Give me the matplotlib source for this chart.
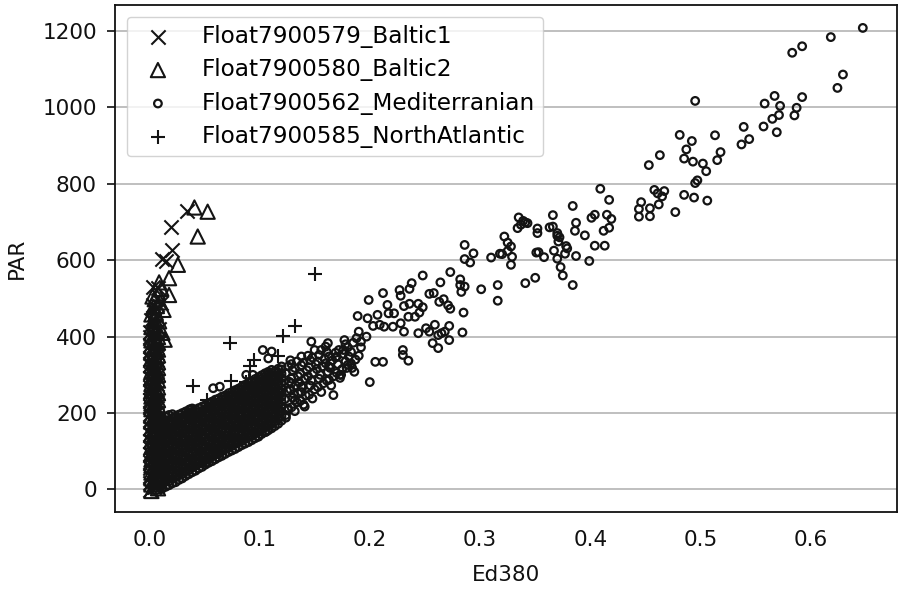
import matplotlib
matplotlib.use("Agg")
import matplotlib.pyplot as plt

plt.rcParams['font.family'] = ['DejaVu Sans']

# ---------------- data ----------------
series_labels = ["Float7900579_Baltic1", "Float7900580_Baltic2",
                 "Float7900562_Mediterranian", "Float7900585_NorthAtlantic"]
x_ticks = [0.0, 0.1, 0.2, 0.3, 0.4, 0.5, 0.6]
x_tick_labels = ["0.0", "0.1", "0.2", "0.3", "0.4", "0.5", "0.6"]
y_ticks = [0, 200, 400, 600, 800, 1000, 1200]
x_label = "Ed380"
y_label = "PAR"

# Baltic1 (x markers): near-zero column + upper tail
baltic1_col_x = [0.001, 0.004, 0.007]
baltic1_col_y = [
    [-2, 17, 35, 56, 71, 92, 109, 127, 146, 161, 183, 197, 218, 233, 254,
     269, 291, 305, 326, 341, 362, 379, 398, 412],
    [6, 29, 51, 68, 93, 111, 135, 152, 177, 195, 219, 236, 262, 278, 303,
     321, 345, 362, 387, 404, 426, 441],
    [10, 40, 62, 85, 104, 130, 148, 171, 190, 213, 230, 256, 275, 296, 315,
     340, 357, 380],
]
baltic1_tail = [(0.034, 728), (0.020, 688), (0.021, 627), (0.012, 604),
                (0.015, 598), (0.003, 531), (0.008, 528), (0.003, 484),
                (0.011, 488), (0.005, 468), (0.007, 452), (0.002, 444),
                (0.009, 420)]

# Baltic2 (triangles): near-zero column + upper tail
baltic2_col_x = [0.002, 0.005, 0.008]
baltic2_col_y = [
    [-4, 13, 29, 44, 62, 78, 93, 111, 126, 144, 159, 177, 192, 210, 225,
     243, 258, 276, 291, 309, 324, 342, 357, 375, 390, 408, 425],
    [8, 25, 47, 60, 82, 98, 116, 139, 157, 172, 190, 214, 229, 247, 265,
     283, 305, 320, 338, 360, 372, 395, 410, 431, 446],
    [3, 21, 36, 54, 69, 87, 102, 120, 135, 153, 168, 186, 201, 219, 234,
     252, 267, 285, 300, 318, 333, 351, 366, 384, 399, 417],
]
baltic2_tail = [(0.041, 738), (0.053, 727), (0.044, 662), (0.026, 588),
                (0.018, 553), (0.009, 542), (0.018, 509), (0.008, 513),
                (0.004, 478), (0.006, 462), (0.002, 458), (0.010, 490),
                (0.013, 470), (0.005, 498), (0.011, 525), (0.014, 392),
                (0.009, 440), (0.012, 410), (0.003, 505), (0.007, 480)]

# Mediterranean: dense low part (columns) + scattered points
med_col_x = [0.012, 0.015, 0.018, 0.021, 0.024, 0.027, 0.030, 0.033, 0.036, 0.039,
             0.042, 0.045, 0.048, 0.051, 0.054, 0.057, 0.060, 0.063, 0.066, 0.069,
             0.072, 0.075, 0.078, 0.081, 0.084, 0.087, 0.090, 0.093, 0.096, 0.099,
             0.102, 0.105, 0.108, 0.111, 0.114, 0.117, 0.120]
med_col_y = [
    [3, 15, 26, 39, 50, 64, 75, 89, 100, 114, 125, 138, 152, 163, 177, 186],
    [7, 20, 31, 44, 55, 68, 80, 93, 105, 118, 130, 143, 155, 168, 180, 190],
    [11, 21, 35, 46, 60, 70, 85, 95, 110, 120, 134, 147, 157, 172, 182, 195],
    [16, 27, 40, 52, 64, 76, 89, 101, 113, 126, 138, 151, 162, 175, 187, 197],
    [19, 32, 43, 57, 67, 82, 92, 106, 117, 131, 141, 156, 166, 180, 191],
    [25, 37, 49, 61, 74, 86, 98, 110, 123, 135, 148, 160, 172, 184, 196],
    [29, 41, 55, 65, 80, 90, 104, 115, 129, 139, 154, 164, 178, 189, 200],
    [35, 47, 59, 71, 84, 96, 108, 121, 133, 146, 158, 170, 183, 195, 204],
    [40, 51, 65, 76, 90, 100, 115, 125, 139, 150, 164, 174, 189, 199, 208],
    [45, 57, 69, 81, 94, 106, 118, 131, 143, 156, 168, 180, 193, 203, 212],
    [49, 62, 73, 87, 98, 112, 122, 137, 147, 161, 172, 186, 196, 209],
    [55, 67, 79, 91, 104, 116, 128, 141, 153, 166, 178, 190, 202, 213],
    [59, 71, 84, 95, 109, 119, 134, 144, 158, 169, 183, 193, 206, 217],
    [65, 76, 88, 100, 113, 125, 137, 150, 162, 175, 187, 199, 211, 221],
    [70, 80, 94, 105, 119, 129, 143, 154, 168, 178, 193, 203, 215, 226],
    [74, 86, 98, 110, 122, 135, 147, 159, 172, 184, 196, 208, 220, 230],
    [79, 91, 102, 116, 126, 141, 151, 165, 176, 190, 200, 214, 224, 235],
    [84, 96, 107, 120, 132, 144, 156, 169, 181, 193, 205, 218, 229, 238],
    [88, 101, 111, 125, 136, 150, 160, 174, 185, 199, 210, 223, 234, 243],
    [93, 105, 117, 129, 141, 153, 166, 178, 190, 203, 215, 227, 238, 246],
    [98, 109, 123, 134, 148, 158, 172, 183, 197, 208, 221, 232, 243, 252],
    [102, 114, 126, 138, 151, 163, 175, 187, 200, 212, 224, 236, 247, 255],
    [106, 119, 130, 144, 154, 168, 179, 193, 204, 217, 228, 241, 252, 260],
    [111, 123, 135, 147, 160, 172, 184, 196, 209, 221, 233, 245, 256, 264],
    [116, 127, 141, 151, 165, 176, 190, 201, 214, 225, 238, 249, 261, 269],
    [120, 132, 144, 156, 169, 181, 193, 205, 218, 230, 242, 254, 265, 274],
    [124, 137, 148, 162, 172, 186, 197, 211, 222, 235, 246, 259, 270, 279],
    [129, 141, 153, 165, 178, 190, 202, 214, 227, 239, 251, 263, 274, 283],
    [134, 146, 159, 169, 183, 194, 208, 219, 232, 243, 256, 267, 279, 289],
    [139, 151, 163, 175, 188, 200, 212, 224, 237, 249, 261, 272, 284, 294],
    [145, 157, 169, 181, 194, 206, 218, 230, 243, 255, 267, 278, 290, 299],
    [150, 162, 174, 186, 199, 211, 223, 235, 248, 260, 272, 283, 295, 304],
    [155, 167, 179, 191, 204, 216, 228, 240, 253, 265, 277, 288, 300, 308],
    [160, 172, 184, 197, 209, 221, 233, 246, 258, 270, 282, 293, 305, 313],
    [166, 178, 190, 202, 215, 227, 239, 251, 264, 276, 288, 299, 310],
    [172, 185, 197, 209, 222, 234, 246, 258, 271, 283, 295, 306, 316],
    [180, 193, 205, 217, 230, 242, 254, 266, 279, 291, 303, 314, 322],
]
med_mid = [
    (0.124, 188), (0.126, 212), (0.123, 236), (0.125, 258), (0.127, 282), (0.124, 305), (0.126, 322), (0.128, 338),
    (0.132, 205), (0.134, 228), (0.131, 250), (0.133, 272), (0.135, 296), (0.132, 318), (0.134, 335),
    (0.140, 222), (0.142, 246), (0.139, 268), (0.141, 290), (0.143, 312), (0.140, 332), (0.144, 350),
    (0.148, 238), (0.150, 262), (0.147, 285), (0.149, 306), (0.151, 328), (0.148, 345),
    (0.156, 255), (0.158, 278), (0.155, 300), (0.157, 322), (0.159, 342), (0.161, 360),
    (0.165, 272), (0.167, 296), (0.164, 318), (0.166, 338), (0.169, 358),
    (0.173, 292), (0.175, 315), (0.178, 335), (0.176, 355), (0.180, 372),
    (0.184, 318), (0.187, 340), (0.183, 360), (0.190, 350), (0.192, 372),
    (0.129, 215), (0.130, 240), (0.128, 262), (0.129, 290), (0.130, 312), (0.129, 328),
    (0.137, 232), (0.138, 255), (0.136, 280), (0.137, 302), (0.138, 325),
    (0.145, 248), (0.146, 272), (0.144, 296), (0.145, 320), (0.146, 338),
    (0.153, 268), (0.154, 290), (0.152, 315), (0.153, 335), (0.154, 352),
    (0.161, 285), (0.162, 308), (0.160, 330), (0.163, 348),
    (0.170, 305), (0.171, 328), (0.169, 345), (0.172, 365),
    (0.179, 318), (0.181, 348), (0.178, 380),
    (0.141, 217), (0.126, 208), (0.124, 195), (0.132, 234), (0.135, 252),
    (0.129, 278), (0.138, 269), (0.106, 151), (0.099, 138), (0.091, 138), (0.080, 125),
    (0.052, 69), (0.061, 99), (0.064, 95), (0.058, 265),
    (0.064, 269), (0.037, 210), (0.026, 186), (0.111, 361), (0.103, 365), (0.108, 343),
    (0.088, 300), (0.094, 300), (0.138, 348),
]
med_upper = [
    (0.216, 483), (0.217, 461), (0.222, 461), (0.231, 480), (0.236, 486), (0.244, 486),
    (0.248, 477), (0.245, 463), (0.241, 452), (0.235, 452), (0.228, 435), (0.231, 413),
    (0.221, 426), (0.213, 426), (0.209, 431), (0.203, 428), (0.198, 448), (0.189, 454),
    (0.190, 413), (0.197, 400), (0.192, 387), (0.188, 396), (0.185, 384), (0.177, 391),
    (0.176, 365), (0.170, 348), (0.162, 383), (0.160, 374), (0.150, 365), (0.147, 387),
    (0.244, 409), (0.251, 422), (0.254, 413), (0.259, 431), (0.262, 404), (0.257, 383),
    (0.262, 370), (0.265, 409), (0.268, 413), (0.272, 391), (0.230, 365), (0.230, 352),
    (0.235, 337), (0.205, 334), (0.212, 334), (0.200, 281), (0.183, 330), (0.186, 308),
    (0.173, 300), (0.163, 287), (0.167, 247), (0.207, 457), (0.180, 326), (0.174, 300),
    (0.163, 322), (0.156, 365),
    (0.363, 686), (0.399, 598), (0.387, 611), (0.384, 535), (0.375, 560), (0.373, 582),
    (0.370, 604), (0.377, 617), (0.379, 631), (0.371, 649), (0.370, 664), (0.367, 625),
    (0.358, 608), (0.353, 621), (0.351, 620), (0.352, 671), (0.352, 683), (0.350, 554),
    (0.341, 540), (0.341, 699), (0.343, 697), (0.339, 703), (0.335, 712), (0.334, 684),
    (0.337, 693), (0.328, 588), (0.329, 609), (0.325, 624), (0.320, 616), (0.318, 617),
    (0.322, 662), (0.325, 646), (0.328, 636), (0.310, 607), (0.316, 535), (0.316, 494),
    (0.301, 524), (0.286, 640), (0.294, 618), (0.286, 603), (0.291, 594), (0.273, 569),
    (0.282, 550), (0.286, 531), (0.282, 535), (0.283, 517), (0.248, 560), (0.238, 540),
    (0.236, 525), (0.227, 522), (0.228, 507), (0.212, 514), (0.199, 496), (0.264, 542),
    (0.254, 512), (0.258, 514), (0.263, 491), (0.267, 498), (0.271, 482), (0.273, 473),
    (0.285, 463), (0.272, 428), (0.284, 411),
    (0.647, 1208), (0.618, 1184), (0.592, 1160), (0.583, 1143), (0.629, 1086), (0.624, 1051),
    (0.495, 1017), (0.567, 1030), (0.592, 1027), (0.558, 1010), (0.572, 1004), (0.587, 999),
    (0.585, 979), (0.571, 980), (0.565, 970), (0.557, 950), (0.569, 935), (0.539, 949),
    (0.544, 917), (0.537, 903), (0.481, 928), (0.492, 912), (0.513, 927), (0.487, 890),
    (0.485, 866), (0.493, 858), (0.518, 883), (0.515, 862), (0.502, 853), (0.505, 833),
    (0.497, 809), (0.495, 802), (0.463, 875), (0.453, 849), (0.458, 784), (0.461, 775),
    (0.467, 781), (0.465, 767), (0.462, 746), (0.446, 752), (0.444, 734), (0.444, 714),
    (0.454, 736), (0.454, 715), (0.477, 726), (0.485, 771), (0.494, 764), (0.506, 756),
    (0.409, 787), (0.417, 758), (0.384, 742), (0.366, 718), (0.387, 698), (0.386, 677),
    (0.401, 711), (0.404, 719), (0.415, 719), (0.419, 708), (0.417, 685), (0.412, 677),
    (0.395, 665), (0.370, 671), (0.372, 660), (0.378, 637), (0.366, 688), (0.404, 638),
    (0.413, 638),
]

# North Atlantic (+)
north_atlantic = [(0.150, 564), (0.073, 383), (0.121, 401), (0.132, 427), (0.095, 340),
                  (0.091, 322), (0.040, 270), (0.074, 283), (0.088, 282), (0.117, 350),
                  (0.052, 234), (0.018, 186), (0.024, 164), (0.030, 120), (0.045, 150),
                  (0.060, 180), (0.015, 90), (0.035, 200)]


def cols_to_xy(cols_x, cols_y, extra):
    xs, ys = [], []
    for cx, cy in zip(cols_x, cols_y):
        xs += [cx] * len(cy)
        ys += list(cy)
    for px, py in extra:
        xs.append(px)
        ys.append(py)
    return xs, ys


b1x, b1y = cols_to_xy(baltic1_col_x, baltic1_col_y, baltic1_tail)
b2x, b2y = cols_to_xy(baltic2_col_x, baltic2_col_y, baltic2_tail)
mx, my = cols_to_xy(med_col_x, med_col_y, med_mid + med_upper)
nx = [p[0] for p in north_atlantic]
ny = [p[1] for p in north_atlantic]

# ---------------- figure ----------------
ink = "#141414"
fig = plt.figure(figsize=(8.98, 5.91), dpi=100)
ax = fig.add_axes([115 / 898, 79 / 591, 782 / 898, 507 / 591])

ax.scatter(b1x, b1y, marker="x", s=105, c=ink, linewidths=1.5,
           label=series_labels[0], zorder=3)
ax.scatter(b2x, b2y, marker="^", s=105, facecolors="none", edgecolors=ink,
           linewidths=1.5, label=series_labels[1], zorder=3)
ax.scatter(mx, my, marker="o", s=30, facecolors="none", edgecolors=ink,
           linewidths=1.6, label=series_labels[2], zorder=3)
ax.scatter(nx, ny, marker="+", s=105, c=ink, linewidths=1.5,
           label=series_labels[3], zorder=3)

ax.set_xlim(-0.031, 0.678)
ax.set_ylim(-59, 1268)
ax.set_xticks(x_ticks)
ax.set_xticklabels(x_tick_labels)
ax.set_yticks(y_ticks)
ax.yaxis.grid(True, color="#b4b4b4", linewidth=1.2, zorder=0)
ax.set_axisbelow(True)

ax.tick_params(axis="y", length=6, width=1.2, pad=7, labelsize=15.5, colors="#111111")
ax.tick_params(axis="x", length=0, pad=13, labelsize=15.5, colors="#111111")
for sp in ax.spines.values():
    sp.set_linewidth(1.3)
    sp.set_color("#111111")

ax.set_xlabel(x_label, fontsize=15.5, color="#111111")
ax.set_ylabel(y_label, fontsize=15.5, color="#111111")
ax.xaxis.set_label_coords(0.5, -0.104)
ax.yaxis.set_label_coords(-0.113, 0.5)

leg = ax.legend(loc="upper left", fontsize=16.7, framealpha=0.8, edgecolor="#c8c8c8",
                handletextpad=0.9, borderpad=0.35, labelspacing=0.45)

fig.savefig("out.png", dpi=100)
